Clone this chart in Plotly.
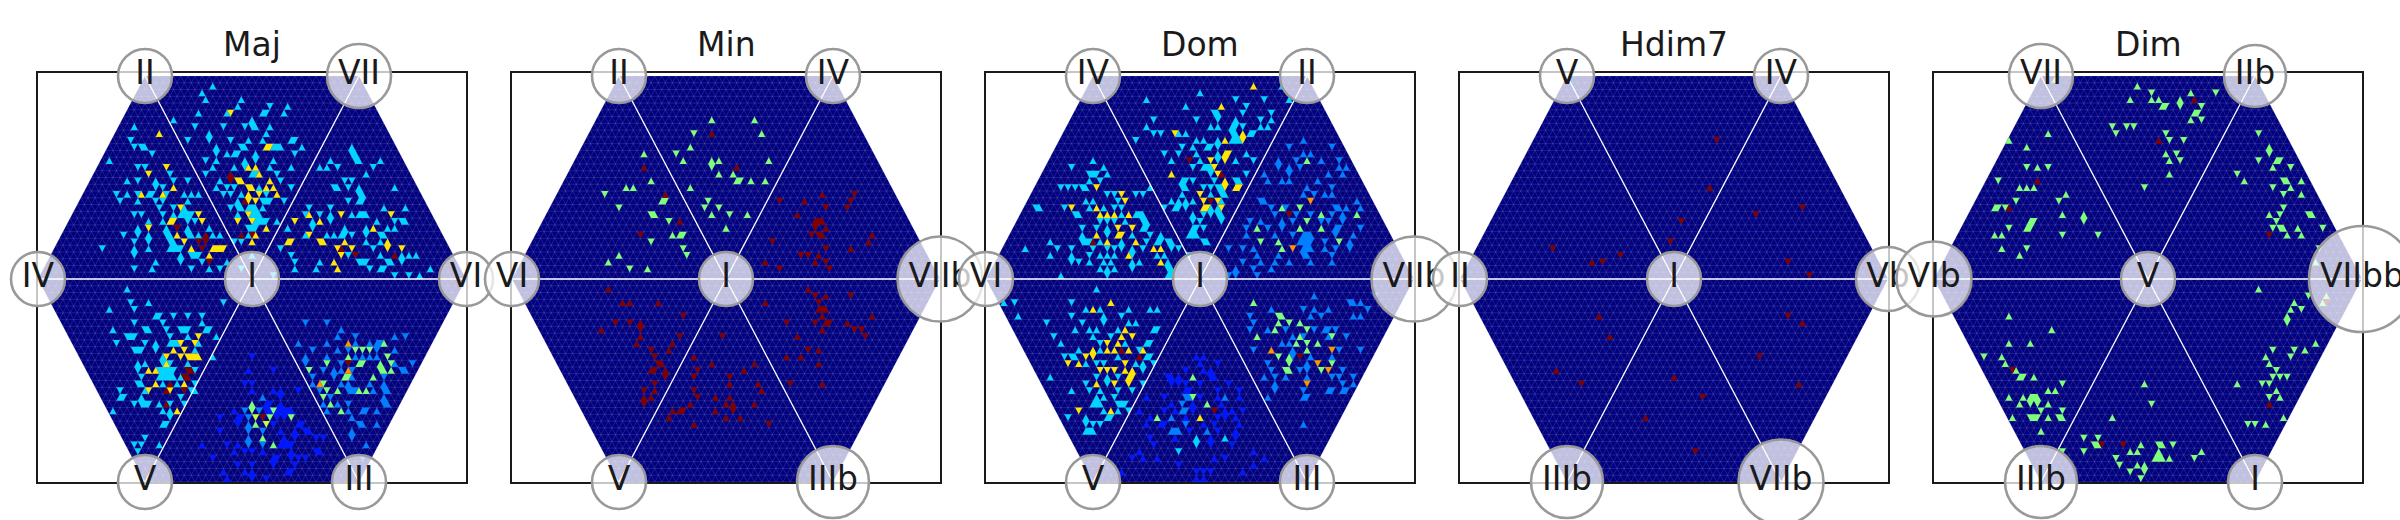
import plotly.graph_objects as go
from plotly.subplots import make_subplots

# colours (jet levels)
NAVY = "#00007f"
BLUE = "#0018ff"
MID = "#0080ff"
CYAN = "#00d4ff"
GREEN = "#7dff7a"
LIME = "#c8ff30"
YELLOW = "#ffe600"
ORANGE = "#ff9400"
RED = "#7f0000"

titles = ["Maj", "Min", "Dom", "Hdim7", "Dim"]

# order: top left, top right, right, bottom right, bottom left, left, centre
maj_labels = ["II", "VII", "VI", "III", "V", "IV", "I"]
min_labels = ["II", "IV", "VIIb", "IIIb", "V", "VI", "I"]
dom_labels = ["IV", "II", "VIIb", "III", "V", "VI", "I"]
hdim_labels = ["V", "IV", "Vb", "VIIb", "IIIb", "II", "I"]
dim_labels = ["VII", "IIb", "VIIbb", "I", "IIIb", "VIb", "V"]

# cells are {row from top: [column in half triangle widths from the middle]}
maj_top_cyan = {1: [-11], 2: [-14], 3: [-13, -3], 4: [-4, 5, 10], 5: [-15, -7, 3, 4, 9], 6: [-22, 0],
                7: [-16, -8, -2, 0, 1, 5], 8: [-12, 4], 9: [-18, -12, -6, -1, 3, 11, 12],
                10: [-10, -3, -2, 6, 7, 8, 14], 11: [-10, -7, -5, -4, 1, 12], 12: [-13, -10, -2, 1, 6],
                13: [-11, -5, -2, 5, 11], 14: [-13, 0, 1, 7], 15: [-9, 8], 16: [-10, -7, -5, 2, 11],
                17: [-8, -6, -3, 4], 18: [-4, 3, 4, 5, 9], 19: [-6, -4, -3, -1, 0, 1, 3], 20: [-4, 0, 1, 2],
                21: [1, 2, 3, 4, 7], 22: [-1, 0, 1], 23: [-1], 24: [-5, -3], 26: [0]}
maj_top_yellow = {5: [-6], 10: [4, 5], 13: [-1, 1], 14: [2], 15: [-4, -3, 5], 16: [-1, 0, 4, 6],
                  17: [-1, 2, 7], 18: [-1, 1], 20: [-1], 21: [-4, 0], 22: [4], 23: [1], 24: [0]}
maj_top_red = {14: [-6], 15: [-6], 18: [-2], 23: [-3, 0]}
maj_left_cyan = {7: [-33], 9: [-34], 10: [-33, -31, -30], 11: [-28], 12: [-40], 13: [-32, -30], 14: [-23],
                 15: [-35, -32, -27, -22, -18], 16: [-27, -25],
                 17: [-38, -35, -32, -29, -28, -24, -19, -17, -15], 18: [-37, -32, -27, -25, -18],
                 19: [-26, -22, -19], 20: [-33, -31, -25, -22, -20, -19, -18, -17], 21: [-29, -25, -18, -16],
                 22: [-32, -24, -18, -12], 23: [-36, -32, -29, -24, -23, -18, -17, -15, -11, -9],
                 24: [-33, -29, -23, -22], 25: [-42, -33, -29, -23, -22, -21, -20],
                 26: [-33, -20, -17, -16, -15], 27: [-27, -20, -14, -7], 28: [-33, -28, -17, -12, -9, -3]}
maj_left_yellow = {8: [-26], 13: [-24], 14: [-29], 16: [-22], 17: [-31, -25], 19: [-20], 20: [-15],
                   21: [-23, -22, -14], 22: [-29], 23: [-21], 24: [-19], 25: [-17, -11, -10, -9, -8], 26: [-12]}
maj_left_red = {22: [-21], 23: [-13], 24: [-15, -13], 25: [-14], 27: [-12]}
maj_right_cyan = {10: [28], 11: [28, 29], 12: [22, 29, 30, 36], 13: [19, 21, 24, 34], 14: [32], 15: [26, 28],
                  16: [23, 24, 27, 30, 40], 17: [30, 31], 18: [27, 30, 31], 19: [16, 22, 37, 43],
                  20: [15, 19, 22, 28, 30, 31, 32], 21: [17, 22, 35, 40, 42, 43], 22: [10, 17, 26, 32, 38, 40],
                  23: [15, 21, 23, 25, 26, 28, 32, 36, 37], 24: [32, 36], 25: [8, 34], 26: [11, 27, 36, 42, 44, 46],
                  27: [12, 19, 30, 31, 32, 38, 39, 42], 28: [12, 18, 33, 36, 37, 50], 29: [6, 40, 44, 47]}
maj_right_yellow = {20: [16, 25, 39], 21: [12, 19], 22: [34], 23: [16], 24: [10, 11, 19, 20, 26, 38],
                    25: [24, 28, 38, 42], 26: [25], 27: [23], 28: [24]}
maj_right_red = {25: [25], 26: [29, 40]}
maj_ll_cyan = {31: [-35], 33: [-34, -29, -8], 34: [-40, -33], 35: [-27, -26, -22, -18, -14], 36: [-33, -25, -14],
               37: [-39, -30, -29, -24, -20, -19, -18, -13, -12], 38: [-35, -34, -33, -23, -18, -10],
               39: [-38, -30, -27, -23, -22, -21, -15], 40: [-33, -32, -31, -27, -16], 41: [-25, -11],
               42: [-32, -30, -25, -23, -18], 43: [-32, -26, -25, -24, -23, -22, -16],
               44: [-31, -26, -25, -24, -23, -22, -20], 45: [-32, -31, -25, -21, -16], 46: [-37, -30, -17, -16],
               47: [-37, -36, -31, -20], 48: [-33, -31, -30, -29, -26, -23, -19], 49: [-39, -25, -23], 50: [-23],
               51: [-25, -24], 53: [-30], 54: [-33, -31, -26], 55: [-32]}
maj_ll_yellow = {38: [-15], 39: [-20, -16], 40: [-22, -19], 41: [-24, -20, -18, -17, -16, -15], 42: [-24],
                 43: [-29, -27], 45: [-27, -19], 46: [-29, -23], 49: [-21]}
maj_ll_red = {43: [-18, -17], 44: [-19, -18], 45: [-23], 46: [-24, -19], 48: [-24]}
maj_low_blue = {41: [0], 43: [-1, 6], 45: [-2, 0], 46: [0, 6, 8, 13], 47: [8], 48: [4, 5, 8],
                49: [-5, 4, 5, 7, 8, 9, 10, 11], 50: [-9, -4, -3, 7, 9], 51: [-4, 6, 13, 14], 52: [-9, 8, 12, 15, 16],
                53: [9, 12, 18, 20], 54: [-14, -7, -4, 8, 9, 10, 11], 55: [-5, -2, 0, 3, 11, 18, 19],
                56: [-11, 6, 7, 11, 13, 15], 57: [-4, 0, 6, 12], 58: [-8, -2, 0, 10, 11], 59: [-7, 0, 4]}
maj_low_mid = {47: [3], 49: [-2, 2], 50: [-1], 51: [-1], 52: [-1, 3], 53: [-1], 54: [-1, 3]}
maj_low_green = {48: [0], 49: [0, 6], 50: [5, 11], 51: [1], 53: [3], 54: [6]}
maj_low_lime = {50: [1], 51: [4]}
maj_low_red = {50: [3]}
maj_lr_mid = {36: [15, 21], 37: [25], 38: [24, 29, 40, 43], 39: [13, 21, 29, 33, 35, 36], 40: [17, 24, 27, 35, 40],
              41: [15, 21, 29, 31, 33, 35], 42: [15, 25, 40, 45], 43: [20, 23, 25, 28, 42, 43], 44: [17, 23, 28, 37],
              45: [17, 25, 27, 33, 37], 46: [19, 27, 28, 29, 34, 37, 38], 47: [22, 37], 48: [20, 24, 27, 37, 38],
              49: [21, 27, 31, 32, 35], 50: [28], 51: [30, 31, 35], 52: [28], 53: [28], 54: [32], 56: [31]}
maj_lr_green = {39: [37], 40: [29, 31, 33], 41: [27, 38], 42: [21, 30, 31, 36, 39], 43: [16, 36, 37, 39],
                44: [26, 27, 34], 45: [20], 46: [21, 24, 30, 32], 47: [20], 48: [22], 49: [25]}
maj_lr_orange = {39: [27], 43: [27], 45: [19]}
maj_lr_red = {42: [27]}

min_green = {6: [-4, 8], 8: [-9, 10], 10: [-10], 11: [-14, -23], 12: [-12, -4, -2, 12], 13: [-4], 14: [-2, 2],
             15: [3, 4, 7, 11, -21], 16: [-10, -28, -26], 17: [-34], 18: [-5, -18, -17], 19: [-6, -2, -30],
             20: [-4, 1, 6, -21, -20], 21: [-16], 22: [0], 23: [-15, -13, -12], 24: [-21], 25: [-12], 26: [-11, -30],
             27: [-33], 28: [-27, -22]}
min_red = {8: [-4], 13: [3, -23], 17: [-17, 27, 36], 18: [15, 22, 35], 19: [34, 28], 20: [20], 21: [-13, 25, 26, 27],
           22: [25, 28], 23: [-24, 24, 26, 27, 41], 24: [40, 13], 25: [28, 35], 26: [21, 23, 26], 27: [11, 25, 28],
           28: [15, 29], 31: [23, -33], 32: [25, 28, 35], 33: [26, 11, -29, -27, -19], 34: [26, 27, 28],
           35: [41, 27, -12], 36: [17, 25, 28, 29, 34, -31, -27, -24], 37: [27, 36, 38, -24, -35],
           38: [39, 20, -13, -24, -1], 39: [-15, -25], 40: [23, 26, -21, -16], 41: [17, 21, -20, -9],
           42: [26, -19, -18, -4, 8], 43: [-21, -20, -17, 5, -8], 44: [-17, -9, 1], 45: [18, 27, -20, 1, 9],
           46: [-23, -20, 10, -9], 47: [-23, -21, -8, -3, 1], 48: [-23, 2, 0, 8, -10], 49: [-15, -13, -12, 2, -3],
           50: [-16, 0, 4], 51: [12, -9]}

dom_top_cyan = {1: [23], 2: [0], 3: [10, 18, -15, 25], 4: [-4, 13], 5: [4, 5, 12, 20], 6: [-13, -1, 5, 10, 17, 20],
                7: [-15, 3, 5, 9, 10, 12, 17, 19], 8: [-13, -11, -4, -6, 14, 15, 9, 10],
                9: [-18, -1, 1, 5, 9, 10, 11], 10: [-5, -2, 2, 3, 5], 11: [-10, -6, -1, 5, 13],
                12: [-8, 0, 5, 10, 15], 13: [2, 3, -2, 1], 14: [3, 13], 15: [-5, -4, 10, 11, -2, 4],
                16: [-5, -4, 1, 3, 5, 6, -14], 17: [-5, 3, 6, 7], 18: [-8, -6, -4, -2, 6], 19: [-10, -7, -6, -4, 3, 5],
                20: [1, 3, 5, 6, -2], 21: [-2, 0, 6], 22: [1, -1, -2], 23: [-3, -2, -1], 24: [1, 2], 26: [-3]}
dom_top_yellow = {1: [15], 4: [6], 8: [-7, 12], 9: [7, 12], 11: [7, 8], 12: [3, 7], 13: [4], 14: [-8, 5], 15: [7],
                  16: [7, 10, 11], 17: [0], 18: [1, 5], 19: [1, 2, 6]}
dom_top_red = {12: [-3], 14: [6], 18: [3]}
dom_left_cyan = {12: [-30], 13: [-36, -27], 14: [-31, -30, -29, -26], 15: [-31, -28],
                 16: [-39, -37, -35, -33, -32], 17: [-24, -26, -18, -16], 18: [-32, -30, -23],
                 19: [-46, -45, -38, -31, -27, -24, -22], 20: [-35, -34, -22, -18, -17, -16],
                 21: [-28, -26, -24, -21, -16, -15], 22: [-33, -29, -26, -16, -15],
                 23: [-33, -26, -19, -14, -11], 24: [-42, -33, -32, -31, -28, -22, -15, -12, -11, -9, -8],
                 25: [-49, -40, -36, -30, -26, -24, -22, -19, -16, -8, -6],
                 26: [-42, -36, -31, -28, -26, -24, -19, -12, -10], 27: [-36, -34, -31, -25, -27, -19, -17, -9],
                 28: [-28, -26, -24, -19, -8, -9], 29: [-26, -39, -9, -8]}
dom_left_yellow = {16: [-29], 17: [-22], 18: [-21], 19: [-36, -29], 20: [-28, -26, -24, -20], 22: [-23, -19],
                   23: [-29, -23, -22], 24: [-26, -18], 25: [-13, -11], 26: [-20], 27: [-11]}
dom_left_red = {24: [-30]}
dom_ll_cyan = {31: [-29], 33: [-36, -55, -52], 34: [-32, -20, -28, -14, -12], 35: [-51, -36, -27, -22],
               36: [-43, -33, -27, -18, -20], 37: [-35, -31, -29, -23, -13, -12], 38: [-41, -30, -25],
               39: [-39, -28, -15, -14, -21], 40: [-34, -28, -17], 41: [-38, -36, -35, -23, -15, -14],
               42: [-32, -29, -27, -18, -16, -13], 43: [-16], 44: [-42, -29, -26, -23], 45: [-32, -26, -16],
               46: [-36, -31, -28, -23, -19], 47: [-29, -27, -24], 48: [-30, -29, -28, -23, -22, -21],
               49: [-27, -23, -20], 50: [-37, -32, -26, -25], 51: [-32, -30, -28], 52: [-32, -31, -30]}
dom_ll_yellow = {33: [-25], 34: [-30], 37: [-21], 38: [-22, -19], 39: [-26, -23], 40: [-30, -26, -24, -20, -16],
                 41: [-32, -30], 42: [-37, -34, -21], 43: [-28, -26, -24, -21, -19], 44: [-20, -19],
                 45: [-29, -24, -20], 49: [-34, -25]}
dom_ll_red = {40: [-22], 41: [-17]}
dom_right_mid = {9: [29], 10: [25, 37], 11: [29, 31], 12: [22, 27, 34, 39], 13: [22, 25, 28, 39, 41],
                 14: [18, 25, 36, 40], 15: [19, 23, 25, 33], 16: [30, 37], 17: [29, 32, 35, 37], 18: [17, 18, 44],
                 19: [20, 24, 38, 39, 41, 45], 20: [21, 27, 31, 40, 37], 21: [14, 17, 23, 26, 34, 36, 40],
                 22: [13, 19, 23, 38, 39, 45], 23: [13, 21, 26, 29, 30, 31, 38, 43], 24: [28, 29, 30, 31, 35, 42],
                 25: [8, 12, 15, 29, 30, 31, 35, 38, 42], 26: [16, 22, 29, 30, 37], 27: [12, 17, 21, 25, 31, 37],
                 28: [10, 15, 20], 29: [8, 10, 16]}
dom_right_green = {12: [30], 19: [23, 28], 20: [34, 44], 21: [30], 22: [16, 28, 34], 24: [17, 22, 39], 25: [23]}
dom_right_orange = {18: [31], 25: [26]}
dom_right_red = {20: [25]}
dom_lr_mid = {32: [32, 49], 33: [42, 43, 45], 34: [20, 29, 32, 36, 47], 35: [14, 31, 34, 45, 43], 36: [15],
              37: [14, 19, 24, 32, 35, 36, 38], 38: [26, 29, 36, 41], 39: [23, 25], 40: [15, 26, 39, 45],
              41: [26, 31, 37], 42: [19, 30], 43: [20, 28, 30, 40], 44: [18, 21, 24, 30, 37, 43, 39],
              45: [21, 43, 40], 46: [21, 29, 36, 37, 40, 41], 47: [19, 29, 30], 51: [29]}
dom_lr_green = {33: [15], 35: [22, 23], 36: [22, 25, 28], 37: [21, 30], 38: [16, 28, 37], 39: [27, 30, 33],
                40: [30], 41: [22, 25], 42: [25, 37], 43: [24, 25, 34]}
dom_lr_orange = {40: [20, 37], 42: [33], 43: [36], 45: [30]}
dom_lr_red = {41: [28]}
dom_low_blue = {41: [-1, 1], 42: [0, 5], 43: [-4, 1, 3], 44: [-9, -8, -6, 3, 4], 45: [-8, -6, -4, 0, 8],
                46: [-4, -3, 5, 11], 47: [-15, -10, 0, 5, 11], 48: [-8, -2, 6], 49: [-17, -10, -7, -2, 7, 9, 12],
                50: [-14, -4, 5, 7, 10], 51: [-15, -11, -10, 1, 4, 11], 52: [-3, 5, 10], 53: [-14, -7, 3, 10],
                54: [-13, 3, 9], 55: [-17, 15], 56: [-19, -16, -12, 4, 7, 18], 57: [-6, 15], 58: [-1, 1, 3, 12, -22],
                59: [-1, 1]}
dom_low_mid = {47: [-4, -3, 7], 48: [-5], 49: [-5, -4], 50: [-8], 51: [-4], 52: [-8, -7, -6, 2]}
dom_low_cyan = {53: [-1, 7], 54: [-1], 55: [-6]}
dom_low_green = {44: [-2], 47: [-2], 48: [2], 50: [-12]}
dom_low_yellow = {50: [0]}
dom_low_red = {49: [4]}

hdim_red = {9: [12], 16: [10], 19: [36], 20: [23], 21: [2], 24: [-1], 25: [-34], 26: [-15], 27: [-20, -23, 32],
            29: [38], 35: [32, -21], 36: [36], 38: [-18], 41: [24], 43: [-33], 44: [0], 45: [-26, 35], 47: [8],
            50: [-8], 55: [6]}

dim_green = {0: [-26], 1: [-3], 2: [1, 19, 12], 3: [-5, 1, 3, 9], 4: [9, 4, 5, 15], 5: [13, 14], 6: [15, 12],
             7: [-10, -6, -4], 8: [-9, 5, -28, 31], 9: [6, 10, -39], 10: [-34, 34], 11: [8, 5, 34],
             12: [6, 9, 31, 36, 37], 13: [-34, -28, -31, 35, 40], 14: [6, 25], 15: [-42, 27, 38, 39, 43],
             16: [-1, -36, -34, -32, 35, 40], 17: [-23, 38, 43], 18: [-37, -25], 19: [-43, -42, -40, 38],
             20: [-24, -18, 37, 34, 45, 46], 21: [-18, -32, -33, 36], 22: [-33, -34, -39, 35, 37, 38, 42, 49],
             23: [-24, -14, -43, -41, 39, 43], 25: [-41, -34, 48], 26: [-36], 27: [47], 31: [31], 32: [45, 50],
             33: [49, 41], 34: [40, 43], 35: [39, -39], 36: [39], 37: [-27], 39: [47, -39, -33], 40: [35, 41, 44],
             41: [40, 33, -46, -41], 42: [34, -40], 43: [36, -37], 44: [35, 37, 39, -36, -35, -32],
             45: [32, 34, 25, -24, -1], 46: [36, -28, -26], 47: [34, 37, -39, -35, -33, -32, -31],
             48: [-31, -36, -33, -28, 1], 49: [-30, -24], 50: [38, -38, -33, -32, -31, -28, -25, -24, -10],
             51: [28, 30, 33], 52: [-30], 53: [-18, -14], 54: [-15, -14, 3, 4, 7, -2], 55: [-5, -3, -18, -24, 15, 3],
             56: [13, 6, -9, 2, 3, 4], 57: [-8, -3, -1], 58: [-5, -1], 59: [-2]}
dim_red = {3: [13], 9: [3], 15: [-31], 19: [-39], 23: [34], 33: [50], 43: [-38], 48: [34], 54: [-13, -7]}

panel_cells = [
    [(maj_top_cyan, CYAN), (maj_top_yellow, YELLOW), (maj_top_red, RED), (maj_left_cyan, CYAN),
     (maj_left_yellow, YELLOW), (maj_left_red, RED), (maj_right_cyan, CYAN), (maj_right_yellow, YELLOW),
     (maj_right_red, RED), (maj_ll_cyan, CYAN), (maj_ll_yellow, YELLOW), (maj_ll_red, RED), (maj_low_blue, BLUE),
     (maj_low_mid, MID), (maj_low_green, GREEN), (maj_low_lime, LIME), (maj_low_red, RED), (maj_lr_mid, MID),
     (maj_lr_green, GREEN), (maj_lr_orange, ORANGE), (maj_lr_red, RED)],
    [(min_green, GREEN), (min_red, RED)],
    [(dom_top_cyan, CYAN), (dom_top_yellow, YELLOW), (dom_top_red, RED), (dom_left_cyan, CYAN),
     (dom_left_yellow, YELLOW), (dom_left_red, RED), (dom_ll_cyan, CYAN), (dom_ll_yellow, YELLOW), (dom_ll_red, RED),
     (dom_right_mid, MID), (dom_right_green, GREEN), (dom_right_orange, ORANGE), (dom_right_red, RED),
     (dom_lr_mid, MID), (dom_lr_green, GREEN), (dom_lr_orange, ORANGE), (dom_lr_red, RED), (dom_low_blue, BLUE),
     (dom_low_mid, MID), (dom_low_cyan, CYAN), (dom_low_green, GREEN), (dom_low_yellow, YELLOW), (dom_low_red, RED)],
    [(hdim_red, RED)],
    [(dim_green, GREEN), (dim_red, RED)],
]
panel_labels = [maj_labels, min_labels, dom_labels, hdim_labels, dim_labels]

# circle diameter around each label, px
circle_size = {"I": 54, "II": 54, "III": 54, "IV": 54, "V": 54, "VI": 54, "VII": 64, "IIb": 62, "Vb": 64,
               "IIIb": 72, "VIb": 75, "VIIb": 85, "VIIbb": 106}

FONT = "DejaVu Sans"
TEXT = "#1a1a1a"
N = 60  # half triangle widths across the hexagon
W, H = 2400, 520
BOX_W = 428
BOX_LEFTS = [38, 512, 986, 1460, 1934]
BOX_TOP, BOX_BOTTOM = 73, 482
MID_Y, HALF_H = 279, 203


def to_xy(k, m):
    return m / N, 1 - 2 * k / N


def row_limit(k):
    return N // 2 + min(k, N - k)


def cell_xy(r, c):
    if (r + c) % 2 == 0:
        pts = [(r, c), (r + 1, c - 1), (r + 1, c + 1)]
    else:
        pts = [(r, c - 1), (r, c + 1), (r + 1, c)]
    xs, ys = zip(*[to_xy(k, m) for k, m in pts])
    return list(xs), list(ys)


def cells_xy(cells):
    xs, ys = [], []
    for r, cols in cells.items():
        for c in cols:
            cx, cy = cell_xy(r, c)
            xs += cx + [None]
            ys += cy + [None]
    return xs, ys


def grid_xy():
    xs, ys = [], []

    def add(a, b):
        x0, y0 = to_xy(*a)
        x1, y1 = to_xy(*b)
        xs.extend([x0, x1, None])
        ys.extend([y0, y1, None])

    for k in range(N + 1):
        add((k, -row_limit(k)), (k, row_limit(k)))
    for sign in (1, -1):
        for d in range(-2 * N, 2 * N + 1):
            pts = [(k, d + sign * k) for k in range(N + 1)
                   if (d + sign * k - k) % 2 == 0 and abs(d + sign * k) <= row_limit(k)]
            if len(pts) > 1:
                add(pts[0], pts[-1])
    return xs, ys


hex_k = [0, 0, N // 2, N, N, N // 2]
hex_m = [-N // 2, N // 2, N, N // 2, -N // 2, -N]
hex_xy = [to_xy(k, m) for k, m in zip(hex_k, hex_m)]
hex_x = [p[0] for p in hex_xy]
hex_y = [p[1] for p in hex_xy]

fig = make_subplots(rows=1, cols=5)
gx, gy = grid_xy()

for i, title in enumerate(titles):
    col = i + 1
    fig.add_trace(go.Scatter(x=hex_x + hex_x[:1], y=hex_y + hex_y[:1], mode="none", fill="toself",
                             fillcolor=NAVY, hoverinfo="skip", showlegend=False), row=1, col=col)
    fig.add_trace(go.Scatter(x=gx, y=gy, mode="lines", line=dict(color="rgba(255,255,255,0.2)", width=0.6),
                             hoverinfo="skip", showlegend=False), row=1, col=col)
    for cells, colour in panel_cells[i]:
        xs, ys = cells_xy(cells)
        fig.add_trace(go.Scatter(x=xs, y=ys, mode="none", fill="toself", fillcolor=colour,
                                 hoverinfo="skip", showlegend=False), row=1, col=col)
    # spokes from the centre out to each corner
    sx, sy = [], []
    for x, y in hex_xy:
        sx += [0, x, None]
        sy += [0, y, None]
    fig.add_trace(go.Scatter(x=sx, y=sy, mode="lines", line=dict(color="white", width=1.3),
                             hoverinfo="skip", showlegend=False), row=1, col=col)
    labels = panel_labels[i]
    # opacity has to be set: an array of sizes makes plotly default to 0.7
    fig.add_trace(go.Scatter(x=hex_x + [0], y=hex_y + [0], mode="markers+text", text=labels,
                             textposition="middle center", cliponaxis=False,
                             textfont=dict(family=FONT, size=33, color=TEXT),
                             marker=dict(size=[circle_size[s] for s in labels], color="rgba(255,255,255,0.75)",
                                         opacity=1, line=dict(color="#999999", width=2.6)),
                             hoverinfo="skip", showlegend=False), row=1, col=col)

    left = BOX_LEFTS[i]
    fig.update_xaxes(domain=[left / W, (left + BOX_W) / W], range=[-1, 1], row=1, col=col)
    fig.update_yaxes(domain=[1 - BOX_BOTTOM / H, 1 - BOX_TOP / H], row=1, col=col,
                     range=[-(BOX_BOTTOM - MID_Y) / HALF_H, (MID_Y - BOX_TOP) / HALF_H])
    fig.add_annotation(text=title, x=(left + BOX_W / 2) / W, y=1 - 44 / H, xref="paper", yref="paper",
                       showarrow=False, xanchor="center", yanchor="middle",
                       font=dict(family=FONT, size=33, color=TEXT))

fig.update_xaxes(showline=True, mirror=True, linecolor=TEXT, linewidth=2, showgrid=False, zeroline=False,
                 showticklabels=False, ticks="", layer="below traces")
fig.update_yaxes(showline=True, mirror=True, linecolor=TEXT, linewidth=2, showgrid=False, zeroline=False,
                 showticklabels=False, ticks="", layer="below traces")
fig.update_layout(width=W, height=H, margin=dict(l=0, r=0, t=0, b=0), paper_bgcolor="white", plot_bgcolor="white")

# plotly's page keeps the browser's default body margin, which would shift everything
fig.write_html("out.html", post_script="document.body.style.margin = '0';",
               config={"displayModeBar": False})
